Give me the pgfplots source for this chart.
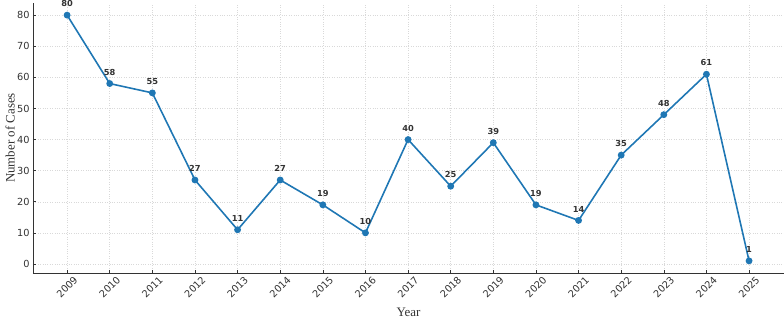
\documentclass[border=0pt]{standalone}
\usepackage{pgfplots}
\pgfplotsset{compat=1.18}
\usepackage{fontspec}
\setmainfont{Liberation Serif}
\newfontfamily\dejavu{DejaVu Sans}
\definecolor{mplblue}{HTML}{1F77B4}
\definecolor{spine}{HTML}{333333}
\begin{document}
\begin{tikzpicture}
\useasboundingbox (-33bp,-45bp) rectangle (751bp,273bp);
\begin{axis}[
  at={(0,0)}, anchor=south west,
  scale only axis, width=751bp, height=270bp,
  xmin=2008.2, xmax=2025.82, ymin=-2.9, ymax=83.9,
  axis x line*=bottom, axis y line*=left,
  axis line style={spine, line width=0.8pt},
  xtick={2009,2010,...,2025}, ytick={0,10,...,80},
  /pgf/number format/1000 sep={},
  /pgf/number format/assume math mode=true,
  tick align=inside, major tick length=3.5bp,
  tick style={spine, line width=0.6pt},
  grid=major, major grid style={dotted, gray!30, line width=0.5pt},
  xticklabel shift=14bp,
  x tick label style={font=\dejavu\fontsize{9.8}{11}\selectfont, text=spine, rotate=45, anchor=center},
  y tick label style={font=\dejavu\fontsize{9.8}{11}\selectfont, text=spine},
  xlabel={Year}, ylabel={Number of Cases},
  label style={font=\fontsize{13}{15}\selectfont, text=spine},
  xlabel style={at={(axis description cs:0.5,-0.1444)}, anchor=center},
  ylabel style={at={(axis description cs:-0.0306,0.5)}, anchor=center},
  clip=false,
  nodes near coords,
  every node near coord/.append style={font=\dejavu\bfseries\fontsize{8.3}{10}\selectfont, text=spine, anchor=south, yshift=4bp},
]
\addplot[color=mplblue, line width=1.6pt, mark=*, mark size=2.6pt, mark options={fill=mplblue, draw=mplblue}] coordinates {
(2009,80) (2010,58) (2011,55) (2012,27) (2013,11) (2014,27) (2015,19) (2016,10) (2017,40)
(2018,25) (2019,39) (2020,19) (2021,14) (2022,35) (2023,48) (2024,61) (2025,1)
};
\end{axis}
\end{tikzpicture}
\end{document}
